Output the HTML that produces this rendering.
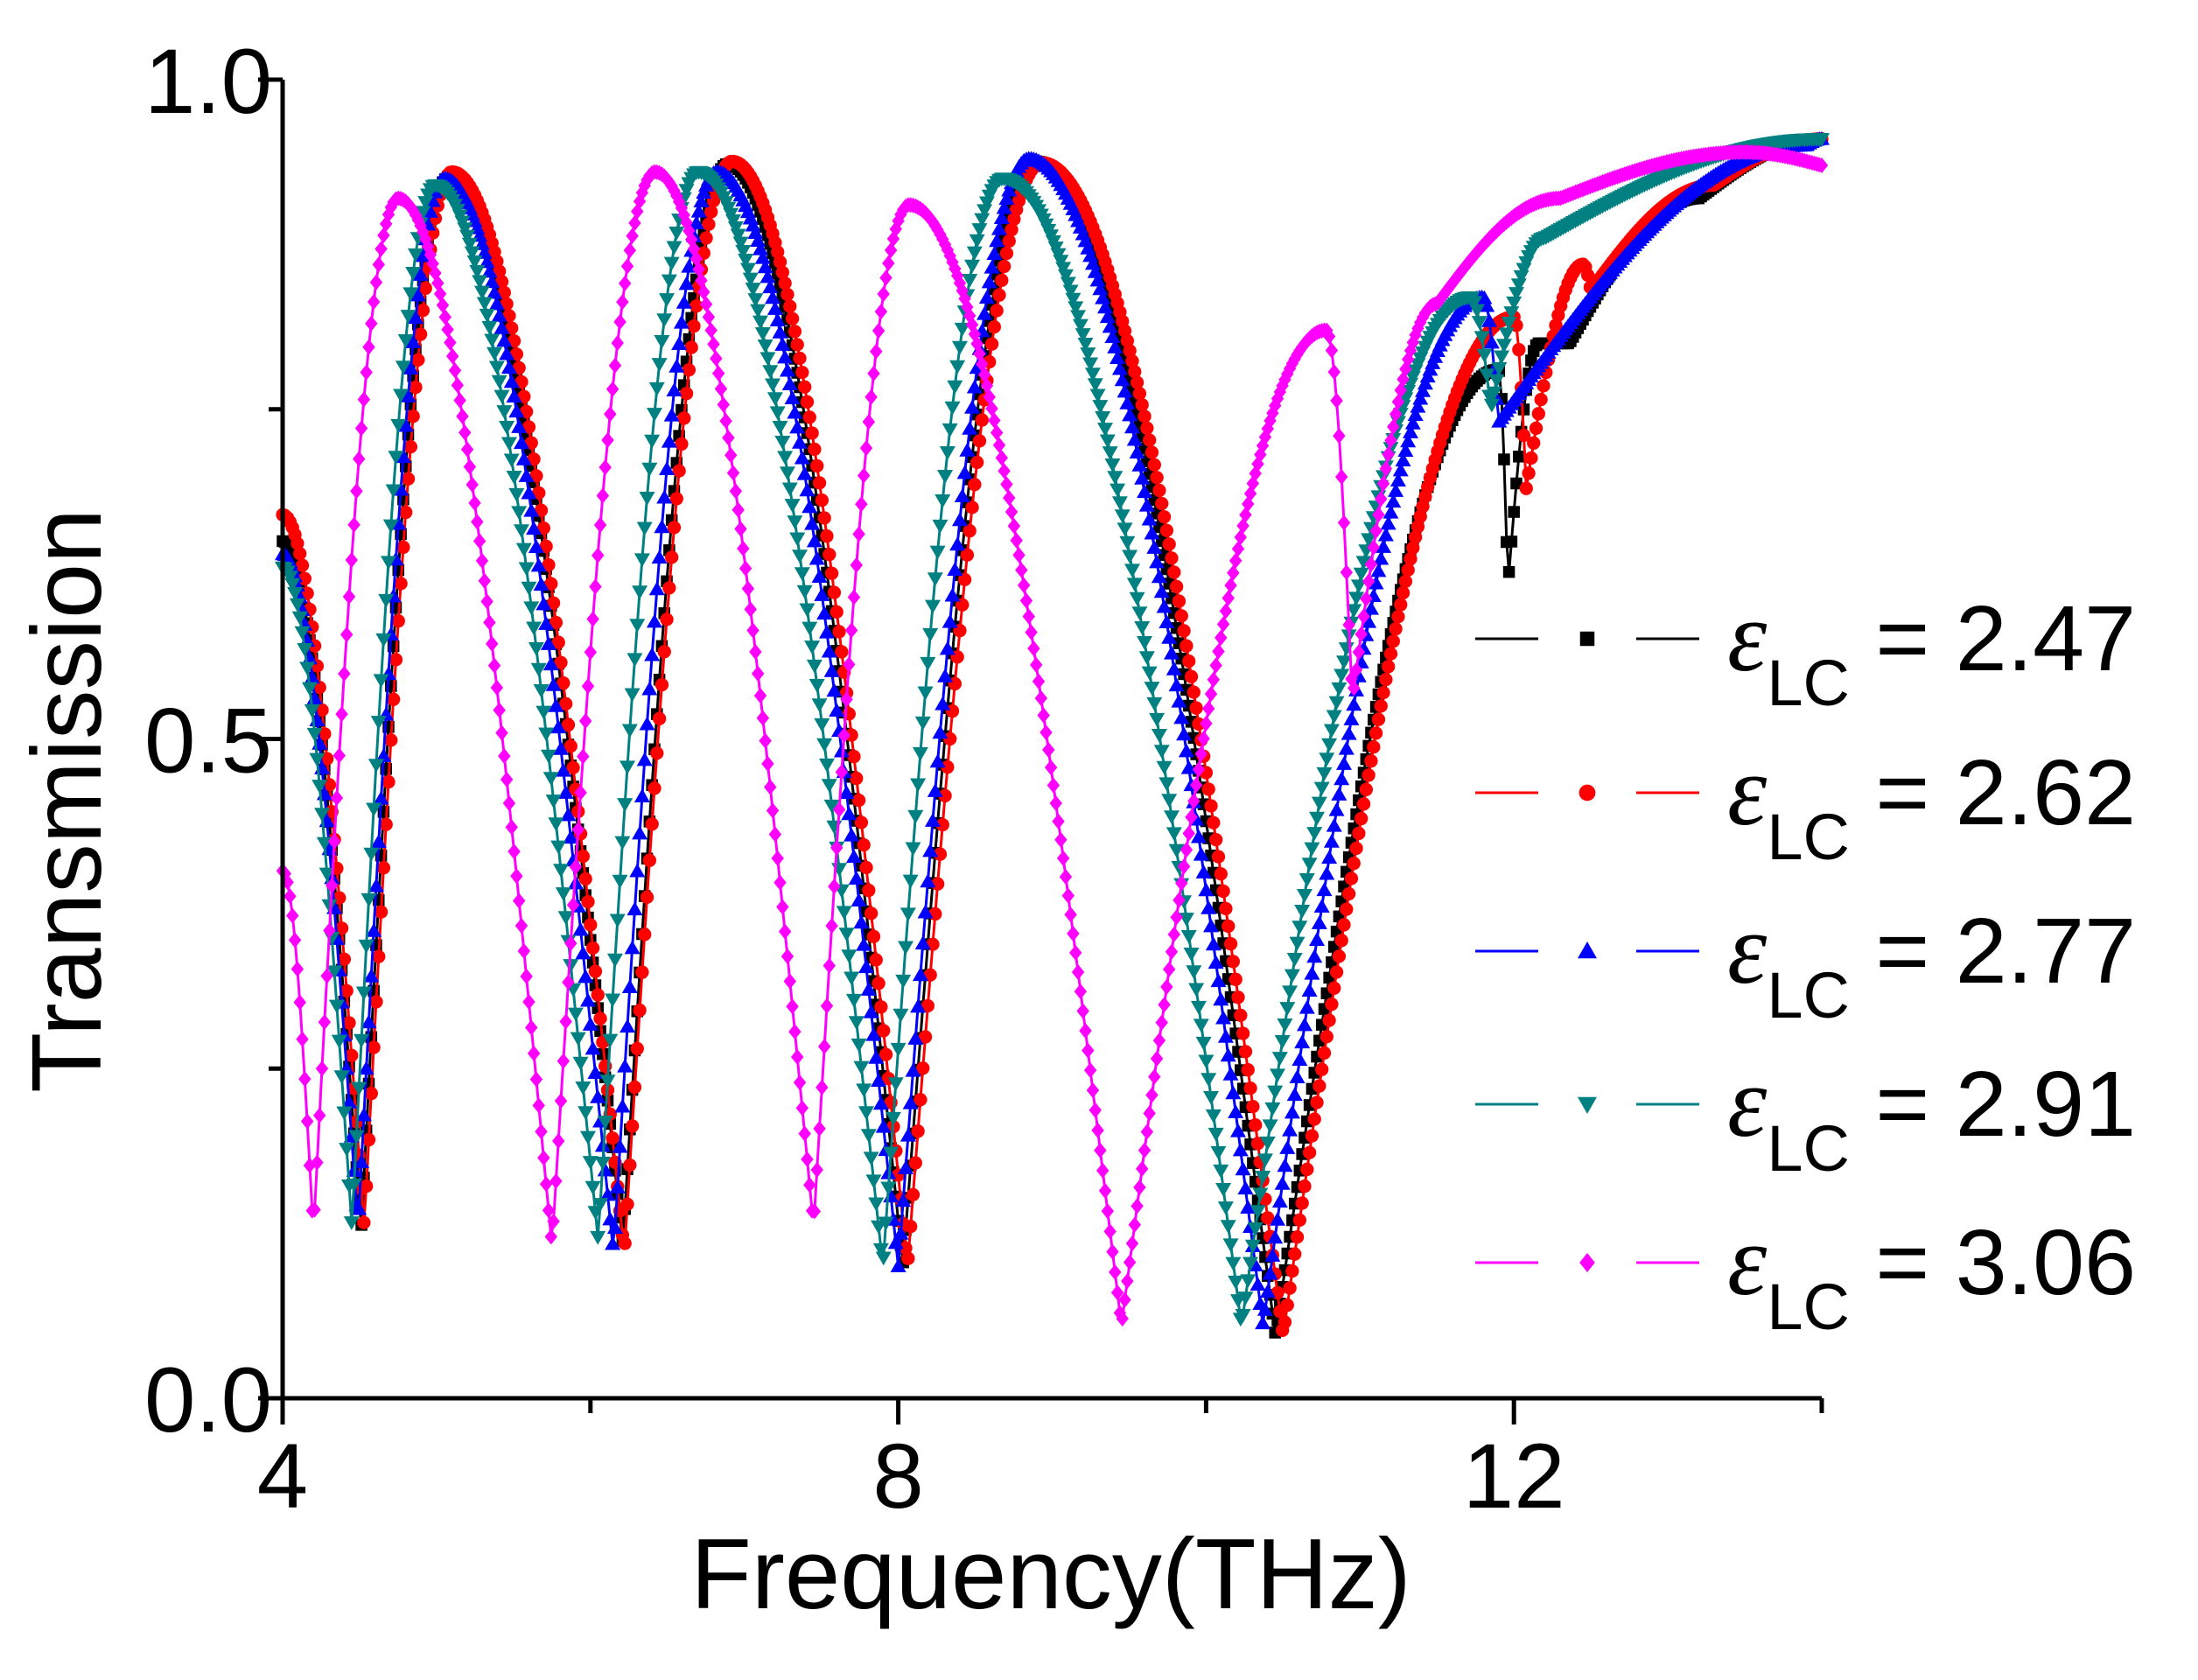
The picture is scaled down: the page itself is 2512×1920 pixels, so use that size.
<!DOCTYPE html>
<html>
<head>
<meta charset="utf-8">
<style>
html,body{margin:0;padding:0;background:#fff;}
svg{display:block;font-family:"Liberation Sans",Arial,sans-serif;}
</style>
</head>
<body>
<svg id="chart" width="2512" height="1920" viewBox="0 0 2512 1920" xmlns="http://www.w3.org/2000/svg">
  <g id="plot"></g>
  <g id="axes"></g>
  <g id="legend"></g>
</svg>
<script>
// ---- data ----
const seriesLabels = ["2.47","2.62","2.77","2.91","3.06"];
const seriesColors = ["#000000","#ff0000","#0000ff","#008080","#ff00ff"];
const seriesMarkers = ["square","circle","triangle","tridown","diamond"];
const s247F = [4.0,4.51,5.07,6.21,6.89,8.03,8.89,10.45,11.9,11.96,12.16,12.36,13.2,14.0];
const s247T = [0.65,0.127,0.925,0.117,0.936,0.10,0.938,0.048,0.78,0.615,0.80,0.80,0.91,0.955];
const s262F = [4.0,4.53,5.10,6.22,6.92,8.06,8.93,10.50,12.0,12.08,12.45,12.5,13.3,14.0];
const s262T = [0.67,0.13,0.93,0.11,0.938,0.10,0.937,0.048,0.82,0.69,0.86,0.84,0.92,0.955];
const s277F = [4.0,4.49,5.05,6.15,6.82,8.00,8.85,10.37,11.8,11.9,13.9,14.0];
const s277T = [0.64,0.13,0.925,0.11,0.93,0.10,0.94,0.055,0.835,0.74,0.95,0.955];
const s291F = [4.0,4.45,4.99,6.05,6.70,7.90,8.68,10.23,11.72,11.85,12.2,14.0];
const s291T = [0.63,0.13,0.92,0.12,0.93,0.10,0.925,0.055,0.835,0.75,0.88,0.955];
const s306F = [4.0,4.20,4.75,5.75,6.42,7.45,8.07,9.45,10.78,10.95,11.5,12.3,13.5,14.0];
const s306T = [0.40,0.125,0.91,0.115,0.93,0.13,0.905,0.055,0.81,0.53,0.83,0.91,0.945,0.935];
const seriesF = [s247F,s262F,s277F,s291F,s306F];
const seriesT = [s247T,s262T,s277T,s291T,s306T];
const xTicks = [4,8,12];
const xMinor = [6,10,14];
const yTicks = [0.0,0.5,1.0];
const yTickLabels = ["0.0","0.5","1.0"];
const yMinor = [0.25,0.75];

// ---- scales ----
const X0=323, X1=2082, Y0=1598, Y1=91;
const xs = f => X0 + (f-4)/(14-4)*(X1-X0);
const ys = t => Y0 - t*(Y0-Y1);
const NS="http://www.w3.org/2000/svg";
function mk(tag, attrs, parent){const e=document.createElementNS(NS,tag);for(const k in attrs)e.setAttribute(k,attrs[k]);parent.appendChild(e);return e;}

function valueAt(F,T,f){
  for(let i=0;i<F.length-1;i++){
    if(f>=F[i]&&f<=F[i+1]){
      const u=(f-F[i])/(F[i+1]-F[i]);
      const a=T[i],b=T[i+1];
      if(a<b) return a+(b-a)*Math.sin(u*Math.PI/2);
      return b+(a-b)*Math.sin((1-u)*Math.PI/2);
    }
  }
  return T[T.length-1];
}
function markerShape(type,x,y,c,parent,s){
  let e;
  if(type==="square") e=mk("rect",{x:x-s*0.75,y:y-s*0.75,width:s*1.5,height:s*1.5,fill:c},parent);
  else if(type==="circle") e=mk("circle",{cx:x,cy:y,r:s*0.85,fill:c},parent);
  else if(type==="triangle") e=mk("polygon",{points:`${x},${y-s} ${x-s},${y+s*0.75} ${x+s},${y+s*0.75}`,fill:c},parent);
  else if(type==="tridown") e=mk("polygon",{points:`${x},${y+s} ${x-s},${y-s*0.75} ${x+s},${y-s*0.75}`,fill:c},parent);
  else e=mk("polygon",{points:`${x},${y-s} ${x+s*0.8},${y} ${x},${y+s} ${x-s*0.8},${y}`,fill:c},parent);
  return e;
}

const plot=document.getElementById("plot");
for(let si=0;si<seriesF.length;si++){
  const g=mk("g",{},plot);
  
  
  const F=seriesF[si],T=seriesT[si];
  let d="";
  const pts=[];
  for(let f=F[0]; f<=F[F.length-1]+1e-9; f+=0.016){
    const x=xs(f),y=ys(valueAt(F,T,f));
    pts.push([x,y]);
    d+=(d?"L":"M")+x.toFixed(1)+","+y.toFixed(1);
  }
  const line=mk("path",{d:d,fill:"none",stroke:seriesColors[si],"stroke-width":3},g);
  
  
  pts.forEach(p=>{
    const m=markerShape(seriesMarkers[si],p[0],p[1],seriesColors[si],g,9);
    
    
  });
}

// ---- axes ----
const axes=document.getElementById("axes");
const ax=mk("line",{x1:X0,y1:Y0,x2:X1,y2:Y0,stroke:"#000","stroke-width":5},axes);


const ay=mk("line",{x1:X0,y1:Y0+2,x2:X0,y2:Y1,stroke:"#000","stroke-width":5},axes);


xTicks.forEach(v=>{
  const t=mk("line",{x1:xs(v),y1:Y0,x2:xs(v),y2:Y0+30,stroke:"#000","stroke-width":5},axes);
  
  
  const l=mk("text",{x:xs(v),y:Y0+125,"font-size":105,"text-anchor":"middle"},axes);
  l.textContent=v;
  
  
});
xMinor.forEach(v=>{
  const t=mk("line",{x1:xs(v),y1:Y0,x2:xs(v),y2:Y0+17,stroke:"#000","stroke-width":5},axes);
  
  
});
yTicks.forEach((v,i)=>{
  const t=mk("line",{x1:X0-28,y1:ys(v),x2:X0,y2:ys(v),stroke:"#000","stroke-width":5},axes);
  
  
  const l=mk("text",{x:X0-12,y:ys(v)+38,"font-size":105,"text-anchor":"end"},axes);
  l.textContent=yTickLabels[i];
  
  
});
yMinor.forEach(v=>{
  const t=mk("line",{x1:X0-16,y1:ys(v),x2:X0,y2:ys(v),stroke:"#000","stroke-width":5},axes);
  
  
});
const xt=mk("text",{x:1201,y:1838,"font-size":114,"text-anchor":"middle"},axes);
xt.textContent="Frequency(THz)";


const yt=mk("text",{x:0,y:0,"font-size":113,"text-anchor":"middle",transform:"translate(115,915) rotate(-90)"},axes);
yt.textContent="Transmission";



// ---- legend ----
const legend=document.getElementById("legend");
const legY=[730,906,1087,1262,1443];
seriesLabels.forEach((lab,i)=>{
  const g=mk("g",{},legend);
  
  
  const y=legY[i];
  mk("line",{x1:1686,y1:y,x2:1942,y2:y,stroke:seriesColors[i],"stroke-width":3},g);
  mk("rect",{x:1758,y:y-6,width:112,height:12,fill:"#fff"},g);
  markerShape(seriesMarkers[i],1814,y,seriesColors[i],g,11);
  const t=mk("text",{x:1974,y:y+36,"font-size":106},g);
  
  
  const e=mk("tspan",{"font-style":"italic","font-family":"Liberation Serif, serif","font-size":115},t); e.textContent="ε";
  const s=mk("tspan",{dy:40,"font-size":74},t); s.textContent="LC";
  const r=mk("tspan",{dy:-40},t); r.textContent=" = "+lab;
});
</script>
</body>
</html>
